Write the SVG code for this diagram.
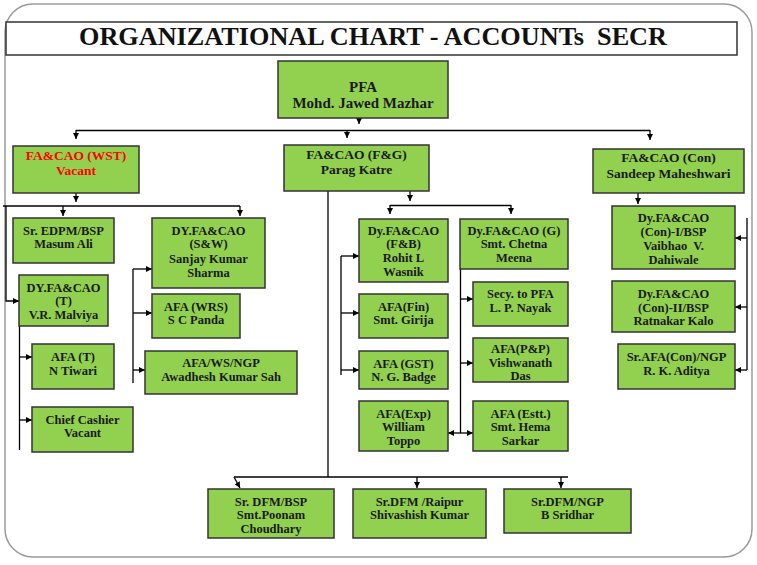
<svg xmlns="http://www.w3.org/2000/svg" width="757" height="565" viewBox="0 0 757 565" font-family="Liberation Serif, Times New Roman, serif">
<defs>
<marker id="ah" viewBox="0 0 6 6" refX="6" refY="3" markerWidth="6" markerHeight="6" markerUnits="userSpaceOnUse" orient="auto-start-reverse">
<path d="M0,0 L6,3 L0,6 z" fill="#000"/>
</marker>
<style>
.box{fill:#92D050;stroke:#333;stroke-width:1.5}
.t{font-weight:bold;font-size:12.5px;fill:#1a1a1a;text-anchor:middle}
.big{font-size:13.5px}
.red{fill:#FF0000}
.c line,.c polyline{stroke:#000;stroke-width:1.3;fill:none}
.a{marker-end:url(#ah)}
</style>
</defs>
<rect width="757" height="565" fill="#fff"/>
<rect x="5" y="4" width="747" height="553" rx="28" ry="28" fill="#fff" stroke="#9a9a9a" stroke-width="1.5"/>
<g id="title">
<rect x="6" y="22" width="731" height="33" fill="#fff" stroke="#333" stroke-width="1.5"/>
<text x="373" y="45" xml:space="preserve" font-family="Liberation Serif, serif" font-weight="bold" font-size="25" fill="#111" text-anchor="middle" textLength="588" lengthAdjust="spacingAndGlyphs">ORGANIZATIONAL CHART - ACCOUNTs  SECR</text>
</g>
<g class="c" id="connectors">
<line class="a" x1="359" y1="118" x2="359" y2="124"/>
<line x1="76" y1="130.5" x2="650" y2="130.5"/>
<line class="a" x1="76" y1="130" x2="76" y2="139"/>
<line class="a" x1="347" y1="130" x2="347" y2="138"/>
<line class="a" x1="650" y1="130" x2="650" y2="140"/>
<line class="a" x1="76" y1="193" x2="76" y2="202"/>
<line x1="3" y1="206" x2="240" y2="206"/>
<line class="a" x1="63" y1="206" x2="63" y2="216"/>
<line class="a" x1="240" y1="206" x2="240" y2="216"/>
<polyline class="a" points="6,206 6,301 19,301"/>
<line x1="19.5" y1="326" x2="19.5" y2="450"/>
<line class="a" x1="19" y1="357" x2="32" y2="357"/>
<line class="a" x1="19" y1="420" x2="32" y2="420"/>
<line class="a" x1="120" y1="432" x2="132" y2="432"/>
<line x1="133" y1="269" x2="133" y2="383"/>
<line class="a" x1="133" y1="269" x2="152" y2="269"/>
<line class="a" x1="133" y1="313" x2="152" y2="313"/>
<line class="a" x1="133" y1="370" x2="145" y2="370"/>
<line x1="328" y1="191" x2="328" y2="477"/>
<line class="a" x1="410" y1="191" x2="410" y2="201"/>
<line x1="390" y1="205.5" x2="511" y2="205.5"/>
<line class="a" x1="390" y1="205" x2="390" y2="214"/>
<line class="a" x1="511" y1="205" x2="511" y2="214"/>
<line x1="341" y1="256" x2="341" y2="375"/>
<line class="a" x1="341" y1="256" x2="359" y2="256"/>
<line class="a" x1="341" y1="313" x2="359" y2="313"/>
<line class="a" x1="341" y1="370" x2="359" y2="370"/>
<line x1="460.5" y1="269" x2="460.5" y2="433"/>
<line class="a" x1="460" y1="299" x2="473" y2="299"/>
<line class="a" x1="460" y1="363" x2="473" y2="363"/>
<line class="a" x1="460" y1="433" x2="473" y2="433"/>
<line class="a" x1="460" y1="433" x2="448" y2="433"/>
<line class="a" x1="638" y1="193" x2="638" y2="204"/>
<line x1="747" y1="218" x2="747" y2="370"/>
<line class="a" x1="747" y1="238" x2="735" y2="238"/>
<line class="a" x1="747" y1="307" x2="735" y2="307"/>
<line class="a" x1="747" y1="370" x2="735" y2="370"/>
<line x1="234" y1="477" x2="568" y2="477"/>
<line class="a" x1="234" y1="477" x2="240" y2="488"/>
<line class="a" x1="417" y1="477" x2="417" y2="488"/>
<line class="a" x1="561" y1="477" x2="561" y2="488"/>
</g>
<g id="pfa"><rect class="box" x="278" y="61" width="170" height="57"/>
<text class="t" style="font-size:15px" x="363" y="92">PFA</text>
<text class="t" style="font-size:15px" x="363" y="108">Mohd. Jawed Mazhar</text></g>
<g id="fa-wst"><rect class="box" x="13" y="146" width="126" height="47"/>
<text class="t big red" x="76" y="159.5">FA&amp;CAO (WST)</text>
<text class="t big red" x="76" y="174.5">Vacant</text></g>
<g id="fa-fg"><rect class="box" x="284" y="145" width="145" height="46"/>
<text class="t big" x="356.5" y="158.5">FA&amp;CAO (F&amp;G)</text>
<text class="t big" x="356.5" y="173.5">Parag Katre</text></g>
<g id="fa-con"><rect class="box" x="593" y="149" width="151" height="44"/>
<text class="t big" x="668.5" y="161.5">FA&amp;CAO (Con)</text>
<text class="t big" x="668.5" y="177.5">Sandeep Maheshwari</text></g>
<g id="edpm"><rect class="box" x="13" y="218" width="101" height="45"/>
<text class="t" x="63.5" y="234.5">Sr. EDPM/BSP</text>
<text class="t" x="63.5" y="247.5">Masum Ali</text></g>
<g id="dy-sw"><rect class="box" x="152" y="218" width="113" height="70"/>
<text class="t" x="208.5" y="234.5">DY.FA&amp;CAO</text>
<text class="t" x="208.5" y="247.5">(S&amp;W)</text>
<text class="t" x="208.5" y="262.5">Sanjay Kumar</text>
<text class="t" x="208.5" y="276.5">Sharma</text></g>
<g id="dy-t"><rect class="box" x="19" y="275" width="89" height="51"/>
<text class="t" x="63.5" y="291.5">DY.FA&amp;CAO</text>
<text class="t" x="63.5" y="304.5">(T)</text>
<text class="t" x="63.5" y="318.5">V.R. Malviya</text></g>
<g id="afa-t"><rect class="box" x="32" y="344" width="82" height="45"/>
<text class="t" x="73" y="360.5">AFA (T)</text>
<text class="t" x="73" y="374.5">N Tiwari</text></g>
<g id="cashier"><rect class="box" x="32" y="407" width="101" height="45"/>
<text class="t" x="82.5" y="423.5">Chief Cashier</text>
<text class="t" x="82.5" y="436.5">Vacant</text></g>
<g id="afa-wrs"><rect class="box" x="152" y="294" width="88" height="44"/>
<text class="t" x="196" y="310.5">AFA (WRS)</text>
<text class="t" x="196" y="323.5">S C Panda</text></g>
<g id="afa-wsngp"><rect class="box" x="145" y="351" width="152" height="43"/>
<text class="t" x="221" y="366.5">AFA/WS/NGP</text>
<text class="t" x="221" y="380.5">Awadhesh Kumar Sah</text></g>
<g id="dy-fb"><rect class="box" x="359" y="219" width="89" height="63"/>
<text class="t" x="403.5" y="234.5">Dy.FA&amp;CAO</text>
<text class="t" x="403.5" y="247.5">(F&amp;B)</text>
<text class="t" x="403.5" y="261.5">Rohit L</text>
<text class="t" x="403.5" y="275.5">Wasnik</text></g>
<g id="dy-g"><rect class="box" x="460" y="219" width="108" height="50"/>
<text class="t" x="514" y="234.5">Dy.FA&amp;CAO (G)</text>
<text class="t" x="514" y="247.5">Smt. Chetna</text>
<text class="t" x="514" y="261.5">Meena</text></g>
<g id="afa-fin"><rect class="box" x="359" y="294" width="89" height="44"/>
<text class="t" x="403.5" y="310.5">AFA(Fin)</text>
<text class="t" x="403.5" y="323.5">Smt. Girija</text></g>
<g id="afa-gst"><rect class="box" x="359" y="351" width="89" height="38"/>
<text class="t" x="403.5" y="367.5">AFA (GST)</text>
<text class="t" x="403.5" y="380.5">N. G. Badge</text></g>
<g id="afa-exp"><rect class="box" x="359" y="401" width="89" height="50"/>
<text class="t" x="403.5" y="417.5">AFA(Exp)</text>
<text class="t" x="403.5" y="430.5">William</text>
<text class="t" x="403.5" y="444.5">Toppo</text></g>
<g id="secy"><rect class="box" x="473" y="282" width="95" height="44"/>
<text class="t" x="520.5" y="297.5">Secy. to PFA</text>
<text class="t" x="520.5" y="311.5">L. P. Nayak</text></g>
<g id="afa-pp"><rect class="box" x="473" y="338" width="95" height="44"/>
<text class="t" x="520.5" y="353">AFA(P&amp;P)</text>
<text class="t" x="520.5" y="366.5">Vishwanath</text>
<text class="t" x="520.5" y="380">Das</text></g>
<g id="afa-estt"><rect class="box" x="473" y="401" width="95" height="50"/>
<text class="t" x="520.5" y="417.5">AFA (Estt.)</text>
<text class="t" x="520.5" y="430.5">Smt. Hema</text>
<text class="t" x="520.5" y="444.5">Sarkar</text></g>
<g id="dy-con1"><rect class="box" x="612" y="206" width="123" height="63"/>
<text class="t" x="673.5" y="221.5">Dy.FA&amp;CAO</text>
<text class="t" x="673.5" y="235.5">(Con)-I/BSP</text>
<text class="t" x="673.5" y="249.5" xml:space="preserve">Vaibhao  V.</text>
<text class="t" x="673.5" y="263.5">Dahiwale</text></g>
<g id="dy-con2"><rect class="box" x="612" y="281" width="123" height="51"/>
<text class="t" x="673.5" y="297.5">Dy.FA&amp;CAO</text>
<text class="t" x="673.5" y="311.5">(Con)-II/BSP</text>
<text class="t" x="673.5" y="324.5">Ratnakar Kalo</text></g>
<g id="sr-afa-con"><rect class="box" x="618" y="344" width="117" height="45"/>
<text class="t" x="676.5" y="360.5">Sr.AFA(Con)/NGP</text>
<text class="t" x="676.5" y="374.5">R. K. Aditya</text></g>
<g id="dfm-bsp"><rect class="box" x="208" y="489" width="126" height="49"/>
<text class="t" x="271" y="505.5">Sr. DFM/BSP</text>
<text class="t" x="271" y="518.5">Smt.Poonam</text>
<text class="t" x="271" y="532.5">Choudhary</text></g>
<g id="dfm-raipur"><rect class="box" x="353" y="489" width="133" height="49"/>
<text class="t" x="419.5" y="505.5">Sr.DFM /Raipur</text>
<text class="t" x="419.5" y="518.5">Shivashish Kumar</text></g>
<g id="dfm-ngp"><rect class="box" x="504" y="489" width="127" height="44"/>
<text class="t" x="567.5" y="505.5">Sr.DFM/NGP</text>
<text class="t" x="567.5" y="518.5">B Sridhar</text></g>
</svg>
